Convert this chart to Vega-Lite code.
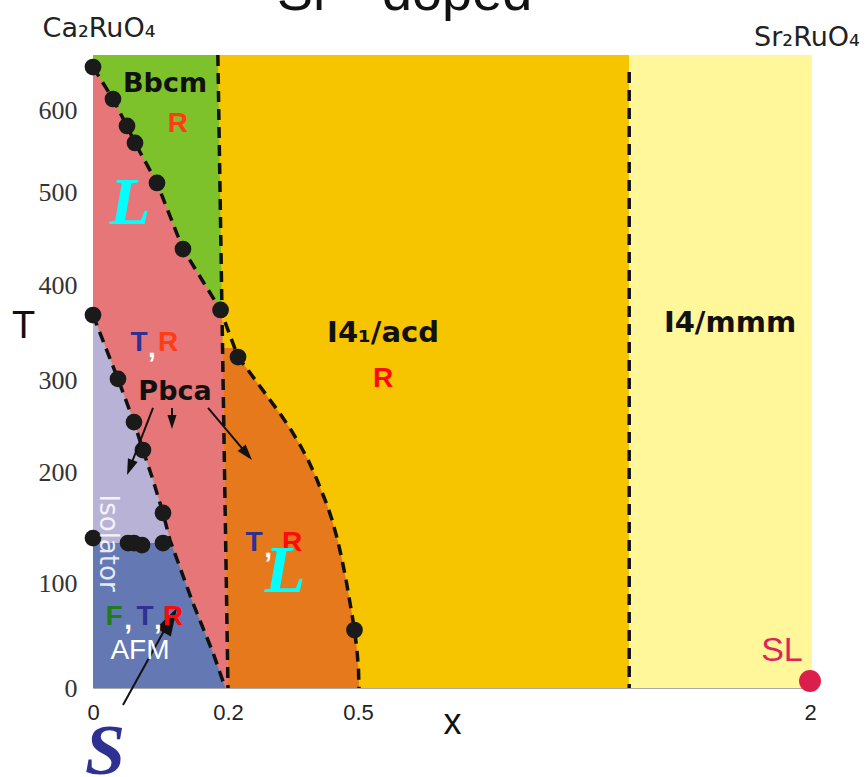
{
  "$schema": "https://vega.github.io/schema/vega-lite/v6.json",
  "width": 719,
  "height": 633,
  "autosize": {"type": "none"},
  "padding": {"left": 93, "top": 55, "right": 55, "bottom": 89},
  "background": "#ffffff",
  "config": {"view": {"stroke": null}, "font": "Liberation Sans"},
  "datasets": {
    "regions": [
      {"region": "gold", "T": 0, "x": 0.18, "x2": 1.4},
      {"region": "gold", "T": 665, "x": 0.18, "x2": 1.4},
      {"region": "yellow", "T": 0, "x": 1.4, "x2": 2.0066},
      {"region": "yellow", "T": 665, "x": 1.4, "x2": 2.0066},
      {"region": "green", "T": 0, "x": 0, "x2": 0.2},
      {"region": "green", "T": 665, "x": 0, "x2": 0.185},
      {"region": "orange", "T": 0, "x": 0.2, "x2": 0.5033},
      {"region": "orange", "T": 17.1, "x": 0.1996, "x2": 0.5017},
      {"region": "orange", "T": 36.2, "x": 0.1991, "x2": 0.4977},
      {"region": "orange", "T": 55.2, "x": 0.1986, "x2": 0.4919},
      {"region": "orange", "T": 69.5, "x": 0.1983, "x2": 0.4864},
      {"region": "orange", "T": 83.8, "x": 0.1979, "x2": 0.4804},
      {"region": "orange", "T": 102.7, "x": 0.1974, "x2": 0.4725},
      {"region": "orange", "T": 120.7, "x": 0.197, "x2": 0.4633},
      {"region": "orange", "T": 138.7, "x": 0.1965, "x2": 0.4529},
      {"region": "orange", "T": 156.8, "x": 0.196, "x2": 0.4402},
      {"region": "orange", "T": 170.3, "x": 0.1957, "x2": 0.4286},
      {"region": "orange", "T": 183.8, "x": 0.1953, "x2": 0.4148},
      {"region": "orange", "T": 197.3, "x": 0.195, "x2": 0.4009},
      {"region": "orange", "T": 213, "x": 0.1946, "x2": 0.3848},
      {"region": "orange", "T": 229.3, "x": 0.1942, "x2": 0.3663},
      {"region": "orange", "T": 245.7, "x": 0.1939, "x2": 0.3455},
      {"region": "orange", "T": 262, "x": 0.1935, "x2": 0.3224},
      {"region": "orange", "T": 278.3, "x": 0.1932, "x2": 0.297},
      {"region": "orange", "T": 294.6, "x": 0.1928, "x2": 0.2716},
      {"region": "orange", "T": 310.5, "x": 0.1925, "x2": 0.2462},
      {"region": "orange", "T": 324.2, "x": 0.1922, "x2": 0.2231},
      {"region": "orange", "T": 333.7, "x": 0.1919, "x2": 0.2155},
      {"region": "pink", "T": 0, "x": 0.196, "x2": 0.2},
      {"region": "pink", "T": 33.3, "x": 0.178, "x2": 0.1992},
      {"region": "pink", "T": 81, "x": 0.148, "x2": 0.198},
      {"region": "pink", "T": 138.7, "x": 0.114, "x2": 0.1965},
      {"region": "pink", "T": 163.1, "x": 0.1037, "x2": 0.1959},
      {"region": "pink", "T": 192.8, "x": 0.0889, "x2": 0.1951},
      {"region": "pink", "T": 223.9, "x": 0.074, "x2": 0.1944},
      {"region": "pink", "T": 254.3, "x": 0.0607, "x2": 0.1937},
      {"region": "pink", "T": 301.1, "x": 0.037, "x2": 0.1927},
      {"region": "pink", "T": 368.4, "x": 0, "x2": 0.1912},
      {"region": "pink", "T": 373.7, "x": 0, "x2": 0.189},
      {"region": "pink", "T": 438.7, "x": 0, "x2": 0.1333},
      {"region": "pink", "T": 511, "x": 0, "x2": 0.0948},
      {"region": "pink", "T": 559.8, "x": 0, "x2": 0.0622},
      {"region": "pink", "T": 580.5, "x": 0, "x2": 0.0504},
      {"region": "pink", "T": 613, "x": 0, "x2": 0.0296},
      {"region": "pink", "T": 650.8, "x": 0, "x2": 0},
      {"region": "lavender", "T": 136, "x": 0, "x2": 0.1156},
      {"region": "lavender", "T": 138.7, "x": 0, "x2": 0.114},
      {"region": "lavender", "T": 163.1, "x": 0, "x2": 0.1037},
      {"region": "lavender", "T": 192.8, "x": 0, "x2": 0.0889},
      {"region": "lavender", "T": 223.9, "x": 0, "x2": 0.074},
      {"region": "lavender", "T": 254.3, "x": 0, "x2": 0.0607},
      {"region": "lavender", "T": 301.1, "x": 0, "x2": 0.037},
      {"region": "lavender", "T": 368.4, "x": 0, "x2": 0},
      {"region": "blue", "T": 0, "x": 0, "x2": 0.196},
      {"region": "blue", "T": 33.3, "x": 0, "x2": 0.178},
      {"region": "blue", "T": 81, "x": 0, "x2": 0.148},
      {"region": "blue", "T": 136, "x": 0, "x2": 0.1156}
    ],
    "boundaries": [
      {"id": "up", "i": 0, "x": 0, "T": 650.8},
      {"id": "up", "i": 1, "x": 0.0296, "T": 613},
      {"id": "up", "i": 2, "x": 0.0504, "T": 580.5},
      {"id": "up", "i": 3, "x": 0.0622, "T": 559.8},
      {"id": "up", "i": 4, "x": 0.0948, "T": 511},
      {"id": "up", "i": 5, "x": 0.1333, "T": 438.7},
      {"id": "up", "i": 6, "x": 0.189, "T": 373.7},
      {"id": "up", "i": 7, "x": 0.2231, "T": 324.2},
      {"id": "up", "i": 8, "x": 0.2462, "T": 310.5},
      {"id": "up", "i": 9, "x": 0.2716, "T": 294.6},
      {"id": "up", "i": 10, "x": 0.297, "T": 278.3},
      {"id": "up", "i": 11, "x": 0.3224, "T": 262},
      {"id": "up", "i": 12, "x": 0.3455, "T": 245.7},
      {"id": "up", "i": 13, "x": 0.3663, "T": 229.3},
      {"id": "up", "i": 14, "x": 0.3848, "T": 213},
      {"id": "up", "i": 15, "x": 0.4009, "T": 197.3},
      {"id": "up", "i": 16, "x": 0.4148, "T": 183.8},
      {"id": "up", "i": 17, "x": 0.4286, "T": 170.3},
      {"id": "up", "i": 18, "x": 0.4402, "T": 156.8},
      {"id": "up", "i": 19, "x": 0.4529, "T": 138.7},
      {"id": "up", "i": 20, "x": 0.4633, "T": 120.7},
      {"id": "up", "i": 21, "x": 0.4725, "T": 102.7},
      {"id": "up", "i": 22, "x": 0.4804, "T": 83.8},
      {"id": "up", "i": 23, "x": 0.4864, "T": 69.5},
      {"id": "up", "i": 24, "x": 0.4919, "T": 55.2},
      {"id": "up", "i": 25, "x": 0.4977, "T": 36.2},
      {"id": "up", "i": 26, "x": 0.5017, "T": 17.1},
      {"id": "up", "i": 27, "x": 0.5033, "T": 0},
      {"id": "low", "i": 0, "x": 0, "T": 368.4},
      {"id": "low", "i": 1, "x": 0.037, "T": 301.1},
      {"id": "low", "i": 2, "x": 0.0607, "T": 254.3},
      {"id": "low", "i": 3, "x": 0.074, "T": 223.9},
      {"id": "low", "i": 4, "x": 0.0889, "T": 192.8},
      {"id": "low", "i": 5, "x": 0.1037, "T": 163.1},
      {"id": "low", "i": 6, "x": 0.114, "T": 138.7},
      {"id": "low", "i": 7, "x": 0.148, "T": 81},
      {"id": "low", "i": 8, "x": 0.178, "T": 33.3},
      {"id": "low", "i": 9, "x": 0.196, "T": 0},
      {"id": "v1", "i": 0, "x": 0.185, "T": 665},
      {"id": "v1", "i": 1, "x": 0.2, "T": 0},
      {"id": "v2", "i": 0, "x": 1.4, "T": 645},
      {"id": "v2", "i": 1, "x": 1.4, "T": 0}
    ],
    "dots": [
      {"x": 0, "T": 650.8}, {"x": 0.0296, "T": 613}, {"x": 0.0504, "T": 580.5},
      {"x": 0.0622, "T": 559.8}, {"x": 0.0948, "T": 511}, {"x": 0.1333, "T": 438.7},
      {"x": 0.189, "T": 373.7}, {"x": 0.2231, "T": 324.2}, {"x": 0.4919, "T": 55.2},
      {"x": 0, "T": 368.4}, {"x": 0.037, "T": 301.1}, {"x": 0.0607, "T": 254.3},
      {"x": 0.074, "T": 223.9}, {"x": 0.1037, "T": 163.1},
      {"x": 0, "T": 140.5}, {"x": 0.0519, "T": 136}, {"x": 0.0607, "T": 136},
      {"x": 0.0726, "T": 134.2}, {"x": 0.1037, "T": 136}
    ]
  },
  "encoding": {
    "x": {
      "field": "x", "type": "quantitative", "stack": null,
      "scale": {"domain": [0, 0.2, 0.5, 2], "range": [0, 135, 265, 717], "nice": false, "zero": false},
      "axis": {
        "values": [0, 0.2, 0.5, 2], "format": "~g", "grid": false, "ticks": false, "tickSize": 0,
        "labelFont": "Liberation Sans", "labelFontSize": 22, "labelColor": "#222", "labelPadding": 14,
        "labelFlush": false, "labelOverlap": false,
        "domain": true, "domainColor": "#aaaaaa", "domainWidth": 1,
        "title": "x", "titleFont": "Liberation Sans", "titleFontSize": 36, "titleFontWeight": "normal",
        "titleColor": "#111", "titleX": 359, "titleY": 34, "titleAlign": "center", "titleBaseline": "middle"
      }
    },
    "y": {
      "field": "T", "type": "quantitative",
      "scale": {"domain": [0, 100, 200, 300, 400, 500, 600, 665], "range": [633, 528, 417, 325, 230, 137, 55, 0], "nice": false, "zero": false},
      "axis": {
        "values": [0, 100, 200, 300, 400, 500, 600], "format": "d", "grid": false, "ticks": false, "tickSize": 0,
        "labelFont": "Liberation Serif", "labelFontSize": 26, "labelColor": "#333", "labelPadding": 16,
        "domain": true, "domainColor": "#aaaaaa", "domainWidth": 1,
        "title": "T", "titleFont": "Liberation Sans", "titleFontSize": 38, "titleFontWeight": "normal",
        "titleColor": "#111", "titleAngle": 0, "titleX": -70, "titleY": 271, "titleAlign": "center", "titleBaseline": "middle"
      }
    }
  },
  "layer": [
    {"data": {"name": "regions"}, "transform": [{"filter": "datum.region == 'gold'"}],
     "mark": {"type": "area", "orient": "horizontal", "color": "#F7C400", "opacity": 1},
     "encoding": {"x2": {"field": "x2"}}},
    {"data": {"name": "regions"}, "transform": [{"filter": "datum.region == 'yellow'"}],
     "mark": {"type": "area", "orient": "horizontal", "color": "#FFF799", "opacity": 1},
     "encoding": {"x2": {"field": "x2"}}},
    {"data": {"name": "regions"}, "transform": [{"filter": "datum.region == 'green'"}],
     "mark": {"type": "area", "orient": "horizontal", "color": "#7DC22B", "opacity": 1},
     "encoding": {"x2": {"field": "x2"}}},
    {"data": {"name": "regions"}, "transform": [{"filter": "datum.region == 'orange'"}],
     "mark": {"type": "area", "orient": "horizontal", "color": "#E5791B", "opacity": 1},
     "encoding": {"x2": {"field": "x2"}}},
    {"data": {"name": "regions"}, "transform": [{"filter": "datum.region == 'pink'"}],
     "mark": {"type": "area", "orient": "horizontal", "color": "#E77679", "opacity": 1},
     "encoding": {"x2": {"field": "x2"}}},
    {"data": {"name": "regions"}, "transform": [{"filter": "datum.region == 'lavender'"}],
     "mark": {"type": "area", "orient": "horizontal", "color": "#B8B3D6", "opacity": 1},
     "encoding": {"x2": {"field": "x2"}}},
    {"data": {"name": "regions"}, "transform": [{"filter": "datum.region == 'blue'"}],
     "mark": {"type": "area", "orient": "horizontal", "color": "#6478B3", "opacity": 1},
     "encoding": {"x2": {"field": "x2"}}},
    {"data": {"name": "boundaries"},
     "mark": {"type": "line", "color": "#111111", "strokeWidth": 3.5, "strokeDash": [11, 7]},
     "encoding": {"detail": {"field": "id"}, "order": {"field": "i", "type": "quantitative"}}},
    {"data": {"name": "dots"},
     "mark": {"type": "point", "shape": "circle", "filled": true, "color": "#1a1a1a", "opacity": 1, "size": 280}},
    {"data": {"values": [{"x": 2, "T": 6.7}]},
     "mark": {"type": "point", "shape": "circle", "filled": true, "color": "#DC1E4A", "opacity": 1, "size": 480}},
    {"data": {"values": [
        {"x": 0.0444, "T": -16.2, "xe": 0.1141, "Te": 64.8},
        {"x": 0.0889, "T": 269.6, "xe": 0.0547, "Te": 204.9},
        {"x": 0.117, "T": 269.6, "xe": 0.117, "Te": 254.3},
        {"x": 0.1704, "T": 269.6, "xe": 0.2434, "Te": 219.7}
      ]},
     "mark": {"type": "rule", "color": "#111111", "strokeWidth": 2},
     "encoding": {"x2": {"field": "xe"}, "y2": {"field": "Te"}}},
    {"data": {"values": [{"x": 0.1144, "T": 64.6}]},
     "mark": {"type": "point", "shape": "M0,-1L0.6,1L-0.6,1Z", "filled": true, "color": "#111111", "opacity": 1, "size": 784, "angle": 29}},
    {"data": {"values": [{"x": 0.0547, "T": 204.9}]},
     "mark": {"type": "point", "shape": "M0,-1L0.65,1L-0.65,1Z", "filled": true, "color": "#111111", "opacity": 1, "size": 256, "angle": 201}},
    {"data": {"values": [{"x": 0.117, "T": 254.3}]},
     "mark": {"type": "point", "shape": "M0,-1L0.65,1L-0.65,1Z", "filled": true, "color": "#111111", "opacity": 1, "size": 196, "angle": 180}},
    {"data": {"values": [{"x": 0.2434, "T": 219.7}]},
     "mark": {"type": "point", "shape": "M0,-1L0.65,1L-0.65,1Z", "filled": true, "color": "#111111", "opacity": 1, "size": 256, "angle": 140}},
    {"data": {"values": [
        {"x": 0.1067, "T": 630.7, "label": "Bbcm"},
        {"x": 0.1215, "T": 287, "label": "Pbca"}
      ]},
     "mark": {"type": "text", "font": "DejaVu Sans", "fontWeight": "bold", "fontSize": 27, "color": "#111111", "align": "center", "baseline": "middle"},
     "encoding": {"text": {"field": "label"}}},
    {"data": {"values": [
        {"x": 0.583, "T": 349.5, "label": "I4₁/acd"},
        {"x": 1.7345, "T": 360, "label": "I4/mmm"}
      ]},
     "mark": {"type": "text", "font": "DejaVu Sans", "fontWeight": "bold", "fontSize": 29, "color": "#111111", "align": "center", "baseline": "middle"},
     "encoding": {"text": {"field": "label"}}},
    {"data": {"values": [
        {"x": 0.1259, "T": 582.9, "label": "R", "role": "R1"},
        {"x": 0.0681, "T": 338.9, "label": "T", "role": "T"},
        {"x": 0.0874, "T": 332.6, "label": ",", "role": "comma"},
        {"x": 0.1111, "T": 338.9, "label": "R", "role": "R1"},
        {"x": 0.583, "T": 301.1, "label": "R", "role": "R2"},
        {"x": 0.0311, "T": 67.6, "label": "F", "role": "F"},
        {"x": 0.0519, "T": 63.8, "label": ",", "role": "comma"},
        {"x": 0.077, "T": 67.6, "label": "T", "role": "T"},
        {"x": 0.0963, "T": 63.8, "label": ",", "role": "comma"},
        {"x": 0.1185, "T": 67.6, "label": "R", "role": "R2"},
        {"x": 0.26, "T": 136, "label": "T", "role": "T"},
        {"x": 0.2924, "T": 130.6, "label": ",", "role": "comma"},
        {"x": 0.3478, "T": 136, "label": "R", "role": "R2"}
      ]},
     "mark": {"type": "text", "font": "Liberation Sans", "fontWeight": "bold", "fontSize": 28, "align": "center", "baseline": "middle"},
     "encoding": {
       "text": {"field": "label"},
       "color": {"field": "role", "type": "nominal", "legend": null,
                 "scale": {"domain": ["R1", "R2", "T", "F", "comma"], "range": ["#FF3C14", "#FF0A0A", "#2E3192", "#1E7B1E", "#FFFFFF"]}}
     }},
    {"data": {"values": [
        {"x": 0.0548, "T": 487.1, "label": "L"},
        {"x": 0.3316, "T": 109.9, "label": "L"}
      ]},
     "mark": {"type": "text", "font": "Liberation Serif", "fontStyle": "italic", "fontWeight": "bold", "fontSize": 67, "color": "#00FFFF", "align": "center", "baseline": "middle"},
     "encoding": {"text": {"field": "label"}}},
    {"data": {"values": [{"x": 0.0222, "T": 136, "label": "Isolator"}]},
     "mark": {"type": "text", "font": "DejaVu Sans", "fontSize": 26, "color": "#FFFFFF", "opacity": 0.85, "angle": 90, "align": "center", "baseline": "middle"},
     "encoding": {"text": {"field": "label"}}},
    {"data": {"values": [{"x": 0.0696, "T": 35.2, "label": "AFM"}]},
     "mark": {"type": "text", "font": "Liberation Sans", "fontSize": 28, "color": "#FFFFFF", "align": "center", "baseline": "middle"},
     "encoding": {"text": {"field": "label"}}},
    {"data": {"values": [{"x": 0.0178, "T": -61, "label": "S"}]},
     "mark": {"type": "text", "font": "Liberation Serif", "fontStyle": "italic", "fontWeight": "bold", "fontSize": 72, "color": "#2E3192", "align": "center", "baseline": "middle"},
     "encoding": {"text": {"field": "label"}}},
    {"data": {"values": [{"x": 1.907, "T": 35.2, "label": "SL"}]},
     "mark": {"type": "text", "font": "Liberation Sans", "fontSize": 34, "color": "#E0245A", "align": "center", "baseline": "middle"},
     "encoding": {"text": {"field": "label"}}},
    {"data": {"values": [
        {"x": 0.0089, "T": 695.7, "label": "Ca₂RuO₄"},
        {"x": 1.99, "T": 685.1, "label": "Sr₂RuO₄"}
      ]},
     "mark": {"type": "text", "font": "DejaVu Sans", "fontSize": 27, "color": "#222222", "align": "center", "baseline": "middle"},
     "encoding": {"text": {"field": "label"}}},
    {"data": {"values": [{"x": 0.3132, "T": 718.2, "label": "Sr²⁺ doped"}]},
     "mark": {"type": "text", "font": "Liberation Sans", "fontSize": 54, "color": "#111111", "align": "left", "baseline": "alphabetic"},
     "encoding": {"text": {"field": "label"}}}
  ]
}
